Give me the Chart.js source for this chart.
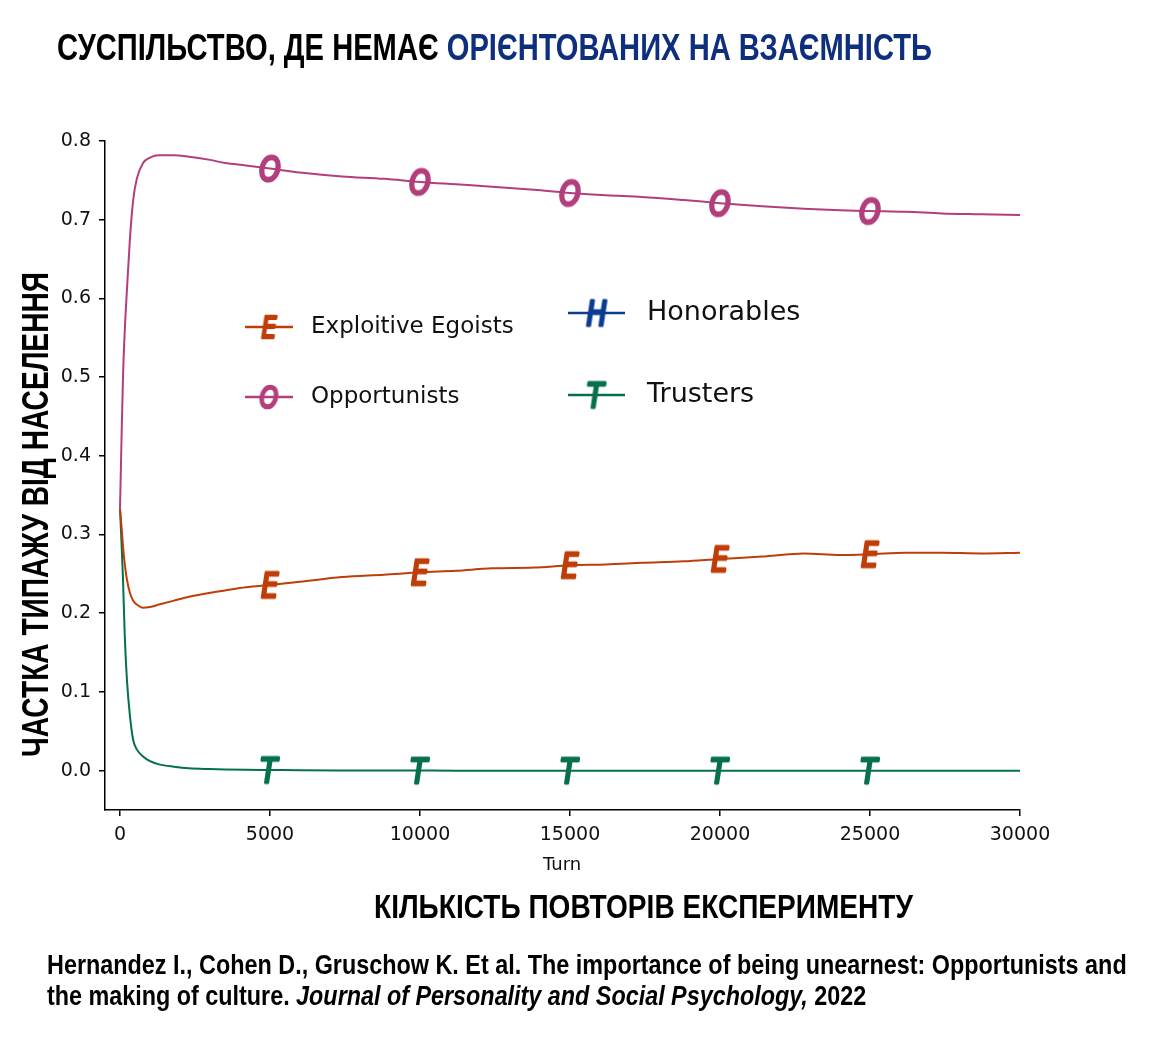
<!DOCTYPE html>
<html>
<head>
<meta charset="utf-8">
<script src="https://cdn.jsdelivr.net/npm/chart.js@4.4.1/dist/chart.umd.min.js"></script>
<style>
  html, body { margin: 0; padding: 0; background: #fff; }
  #page { position: relative; width: 1174px; height: 1050px; overflow: hidden; background: #fff; }
  #chart { position: absolute; left: 0; top: 0; }
  .t { position: absolute; white-space: nowrap; line-height: 1; font-family: "Liberation Sans", Arial, sans-serif;
       font-weight: bold; color: #000; transform-origin: 0 0; }
  .dj { font-family: "DejaVu Sans", sans-serif; font-weight: normal; color: #111; }
</style>
</head>
<body>
<div id="page">
  <canvas id="chart" width="1174" height="1050"></canvas>

  <div class="t" data-w="875" style="left:57px; top:28.7px; font-size:37px;">СУСПІЛЬСТВО, ДЕ НЕМАЄ <span style="color:#0d2f7e">ОРІЄНТОВАНИХ НА ВЗАЄМНІСТЬ</span></div>
  <div class="t" data-w="485" data-rot="1" style="left:17.8px; top:757px; font-size:36px;">ЧАСТКА ТИПАЖУ ВІД НАСЕЛЕННЯ</div>
  <div class="t dj" style="left:543px; top:854.8px; font-size:18px;">Turn</div>
  <div class="t" data-w="539" style="left:374px; top:889.2px; font-size:34px;">КІЛЬКІСТЬ ПОВТОРІВ ЕКСПЕРИМЕНТУ</div>
  <div class="t" data-w="1080" style="left:47px; top:952.1px; font-size:27px;">Hernandez I., Cohen D., Gruschow K. Et al. The importance of being unearnest: Opportunists and</div>
  <div class="t" data-w="819" style="left:47px; top:983.1px; font-size:27px;">the making of culture. <i>Journal of Personality and Social Psychology,</i> 2022</div>
</div>

<script>
// values (Honorables never appear in this run, legend only)
const turns = [0, 50, 100, 160, 230, 330, 440, 560, 770, 1000, 1300, 1800, 2300, 3000, 3500, 4200,
  5000, 6000, 7400, 8800, 10000, 11200, 12400, 13800, 15000, 16200, 17400, 18800, 20000, 21400,
  22800, 24000, 25000, 26200, 27400, 28700, 30000];

const opportunists = [0.333, 0.42, 0.50, 0.56, 0.61, 0.675, 0.725, 0.752, 0.772, 0.779, 0.782, 0.782,
  0.780, 0.776, 0.772, 0.769, 0.765, 0.760, 0.755, 0.752, 0.748, 0.745, 0.742, 0.738, 0.734, 0.731,
  0.729, 0.725, 0.721, 0.717, 0.714, 0.712, 0.711, 0.710, 0.708, 0.707, 0.706];

const egoists = [0.333, 0.31, 0.285, 0.262, 0.243, 0.226, 0.216, 0.211, 0.207, 0.208, 0.211, 0.216,
  0.221, 0.226, 0.229, 0.233, 0.236, 0.240, 0.246, 0.249, 0.252, 0.254, 0.257, 0.258, 0.261, 0.262,
  0.264, 0.266, 0.269, 0.272, 0.276, 0.274, 0.275, 0.277, 0.277, 0.276, 0.277];

const trusters = [0.333, 0.29, 0.243, 0.17, 0.116, 0.07, 0.039, 0.027, 0.018, 0.012, 0.008, 0.005,
  0.003, 0.002, 0.0015, 0.001, 0.0008, 0.0005, 0.0003, 0.0002, 0.0001, 0, 0, 0, 0, 0,
  0, 0, 0, 0, 0, 0, 0, 0, 0, 0, 0];

const markTurns = [5000, 10000, 15000, 20000, 25000];
const xTicks = [0, 5000, 10000, 15000, 20000, 25000, 30000];
const yTicks = [0, 0.1, 0.2, 0.3, 0.4, 0.5, 0.6, 0.7, 0.8];

const colO = '#b23f7c', colE = '#bf3d08', colT = '#05704a', colH = '#0b3d91';

// fit the condensed headings to their width
document.querySelectorAll('.t[data-w]').forEach(el => {
  const k = +el.dataset.w / el.offsetWidth;
  el.style.transform = el.dataset.rot ? 'rotate(-90deg) scaleX(' + k + ')' : 'scaleX(' + k + ')';
});

// letter markers, like matplotlib's "$E$" (oblique, thick edge, a bit narrow)
function letterMarker(ch, color, size) {
  const sx = 0.8;
  const c = document.createElement('canvas');
  c.width = Math.ceil(size * 1.1);
  c.height = Math.ceil(size * 1.2);
  const g = c.getContext('2d');
  g.font = 'italic ' + size + 'px "DejaVu Sans"';
  g.fillStyle = color;
  g.strokeStyle = color;
  g.lineWidth = size / 11;
  g.lineJoin = 'round';
  const m = g.measureText(ch);
  const w = (m.actualBoundingBoxLeft + m.actualBoundingBoxRight) * sx;
  const h = m.actualBoundingBoxAscent + m.actualBoundingBoxDescent;
  g.translate((c.width - w) / 2, (c.height - h) / 2 + m.actualBoundingBoxAscent);
  g.scale(sx, 1);
  g.fillText(ch, m.actualBoundingBoxLeft, 0);
  g.strokeText(ch, m.actualBoundingBoxLeft, 0);
  return c;
}

function series(label, vals, color, marker) {
  return {
    label: label,
    data: turns.map((t, i) => ({ x: t, y: vals[i] })),
    borderColor: color,
    borderWidth: 2,
    cubicInterpolationMode: 'monotone',
    pointStyle: marker,
    pointRadius: ctx => markTurns.includes(turns[ctx.dataIndex]) ? 8 : 0,
    pointBackgroundColor: color,
    pointBorderColor: color
  };
}

const legendItems = [
  { text: 'Exploitive Egoists', color: colE, marker: letterMarker('E', colE, 30), x1: 245, x2: 293, y: 327, tx: 311, font: 23 },
  { text: 'Opportunists', color: colO, marker: letterMarker('O', colO, 30), x1: 245, x2: 293, y: 397, tx: 311, font: 23 },
  { text: 'Honorables', color: colH, marker: letterMarker('H', colH, 34), x1: 568, x2: 625, y: 313, tx: 647, font: 27 },
  { text: 'Trusters', color: colT, marker: letterMarker('T', colT, 34), x1: 568, x2: 625, y: 395, tx: 647, font: 27 }
];

const legendPlugin = {
  id: 'inlineLegend',
  afterDraw(chart) {
    const g = chart.ctx;
    g.save();
    legendItems.forEach(it => {
      g.strokeStyle = it.color;
      g.lineWidth = 2.5;
      g.beginPath();
      g.moveTo(it.x1, it.y);
      g.lineTo(it.x2, it.y);
      g.stroke();
      const cx = (it.x1 + it.x2) / 2;
      g.drawImage(it.marker, cx - it.marker.width / 2, it.y - it.marker.height / 2);
      g.fillStyle = '#111';
      g.font = it.font + 'px "DejaVu Sans"';
      g.textBaseline = 'middle';
      g.textAlign = 'left';
      g.fillText(it.text, it.tx, it.y);
    });
    g.restore();
  }
};

new Chart(document.getElementById('chart'), {
  type: 'line',
  data: {
    datasets: [
      series('Opportunists', opportunists, colO, letterMarker('O', colO, 34)),
      series('Exploitive Egoists', egoists, colE, letterMarker('E', colE, 34)),
      series('Trusters', trusters, colT, letterMarker('T', colT, 34))
    ]
  },
  options: {
    responsive: false,
    animation: false,
    events: [],
    layout: { padding: { left: 0, top: 141, right: 154, bottom: 200 } },
    plugins: { legend: { display: false }, tooltip: { enabled: false } },
    scales: {
      x: {
        type: 'linear',
        min: -500,
        max: 30000,
        afterBuildTicks: s => { s.ticks = xTicks.map(v => ({ value: v })); },
        afterFit: s => { s.height = 40; },
        grid: { drawOnChartArea: false, drawTicks: true, tickLength: 6, color: '#000', lineWidth: 1.5 },
        border: { display: true, color: '#000', width: 1.5 },
        ticks: { color: '#111', padding: 8, maxRotation: 0, font: { family: 'DejaVu Sans', size: 19 },
                 callback: v => String(v) }
      },
      y: {
        min: -0.05,
        max: 0.8,
        afterBuildTicks: s => { s.ticks = yTicks.map(v => ({ value: v })); },
        afterFit: s => { s.width = 105; },
        grid: { drawOnChartArea: false, drawTicks: true, tickLength: 6, color: '#000', lineWidth: 1.5 },
        border: { display: true, color: '#000', width: 1.5 },
        ticks: { color: '#111', padding: 8, font: { family: 'DejaVu Sans', size: 19 },
                 callback: v => v.toFixed(1) }
      }
    }
  },
  plugins: [legendPlugin]
});
</script>
</body>
</html>
